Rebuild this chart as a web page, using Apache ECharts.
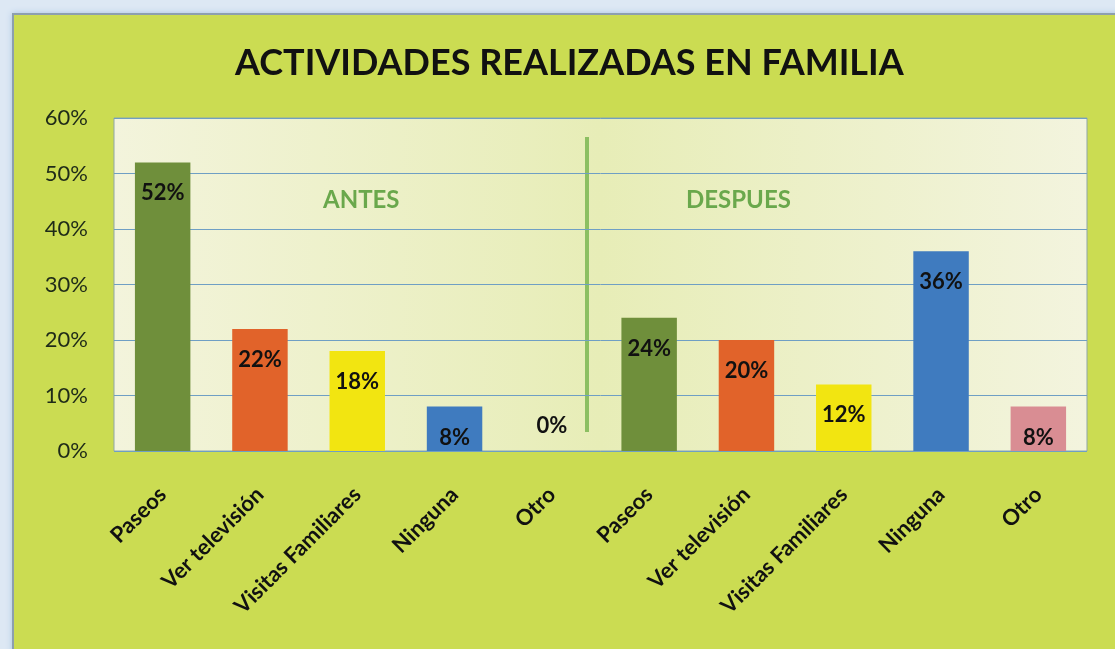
<!DOCTYPE html>
<html>
<head>
<meta charset="utf-8">
<script src="https://cdn.jsdelivr.net/npm/echarts@6/dist/echarts.min.js"></script>
<style>
  html, body { margin: 0; padding: 0; background: #dde8f4; overflow: hidden; }
  #frame {
    position: absolute; left: 12px; top: 13px; width: 1120px; height: 660px;
    background: #cbdc52; border: 2px solid #8d9fae; box-sizing: border-box;
    box-shadow: 0 0 6px #a9c4e4;
  }
  #main { position: absolute; left: 0; top: 0; width: 1115px; height: 649px; }
</style>
</head>
<body>
<div id="frame"></div>
<div id="main"></div>
<script>
// categorias: antes (5) y despues (5)
var categorias = ['Paseos', 'Ver televisión', 'Visitas Familiares', 'Ninguna', 'Otro',
                  'Paseos', 'Ver televisión', 'Visitas Familiares', 'Ninguna', 'Otro'];
var valores = [52, 22, 18, 8, 0, 24, 20, 12, 36, 8];
var colores = ['#6f8f3b', '#e1632a', '#f2e511', '#3f7bbf', '#6f8f3b',
               '#6f8f3b', '#e1632a', '#f2e511', '#3f7bbf', '#d98d93'];
var ticksY = [0, 10, 20, 30, 40, 50, 60];

var fuente = 'Lato, "Open Sans", sans-serif';

var myChart = echarts.init(document.getElementById('main'));

var datos = valores.map(function (v, i) {
    var item = { value: v, itemStyle: { color: colores[i] } };
    if (v === 0) {
        item.label = { position: 'top', distance: 14 };
    }
    return item;
});

myChart.setOption({
    backgroundColor: 'transparent',
    textStyle: { fontFamily: fuente },
    title: {
        text: 'ACTIVIDADES REALIZADAS EN FAMILIA',
        left: 230,
        top: 40,
        textStyle: { fontSize: 36, fontWeight: 'bold', color: '#111', fontFamily: fuente }
    },
    grid: {
        left: 114, right: 28, top: 118, bottom: 198,
        show: true,
        borderColor: '#8fa6a8',
        borderWidth: 1,
        backgroundColor: new echarts.graphic.LinearGradient(0, 0, 1, 0, [
            { offset: 0, color: '#f3f4dc' },
            { offset: 0.5, color: '#e7edb7' },
            { offset: 1, color: '#f3f4de' }
        ])
    },
    xAxis: {
        type: 'category',
        data: categorias,
        axisLine: { show: false },
        axisTick: { show: false },
        axisLabel: {
            interval: 0,
            rotate: 45,
            margin: 40,
            fontSize: 22,
            fontWeight: 'bold',
            color: '#111'
        }
    },
    yAxis: {
        type: 'value',
        min: ticksY[0],
        max: ticksY[ticksY.length - 1],
        interval: 10,
        axisLine: { show: false },
        axisTick: { show: false },
        axisLabel: {
            margin: 26,
            fontSize: 22,
            color: '#1e2a18',
            formatter: '{value}%'
        },
        splitLine: { lineStyle: { color: '#6f9fc4', width: 1 } }
    },
    series: [{
        type: 'bar',
        data: datos,
        barWidth: '57%',
        label: {
            show: true,
            position: 'insideTop',
            distance: 20,
            formatter: '{c}%',
            fontSize: 22,
            fontWeight: 'bold',
            color: '#111'
        }
    }],
    graphic: [
        {
            type: 'line',
            shape: { x1: 587, y1: 137, x2: 587, y2: 432 },
            style: { stroke: '#7bb652', lineWidth: 4, opacity: 0.85 }
        },
        {
            type: 'text',
            left: 323, top: 188,
            style: { text: 'ANTES', fontSize: 24, fontWeight: 'bold', fill: '#6aa84c', fontFamily: fuente }
        },
        {
            type: 'text',
            left: 686, top: 188,
            style: { text: 'DESPUES', fontSize: 24, fontWeight: 'bold', fill: '#6aa84c', fontFamily: fuente }
        }
    ]
});

window.onresize = function () {
    myChart.resize();
};
</script>
</body>
</html>
